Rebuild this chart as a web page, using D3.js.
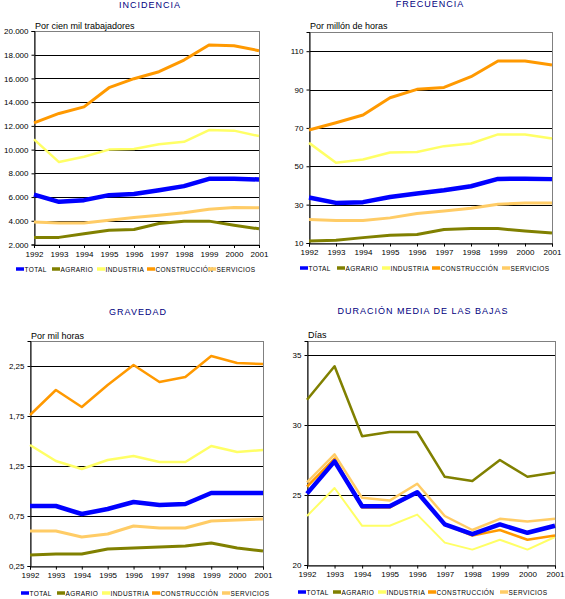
<!DOCTYPE html>
<html>
<head>
<meta charset="utf-8">
<script src="https://cdn.jsdelivr.net/npm/d3@7"></script>
<style>
  body { margin: 0; background: #fff; }
  svg { display: block; font-family: "Liberation Sans", Arial, sans-serif; }
  .title { fill: #000080; font-size: 9px; letter-spacing: 1px; }
  .sub { font-size: 9px; }
  .tick text { font-size: 8px; }
  .legend text { font-size: 6.5px; letter-spacing: 0.4px; }
</style>
</head>
<body>
<div class="vis"></div>
<script>
(function() {
  'use strict';

  var years = [1992, 1993, 1994, 1995, 1996, 1997, 1998, 1999, 2000, 2001];
  var seriesNames = ['TOTAL', 'AGRARIO', 'INDUSTRIA', 'CONSTRUCCIÓN', 'SERVICIOS'];
  var colors = ['#0000ff', '#808000', '#ffff66', '#ff9900', '#ffcc66'];

  // incidencia, por cien mil trabajadores
  var incTotal = [6200, 5600, 5740, 6160, 6250, 6580, 6920, 7540, 7540, 7480];
  var incAgrario = [2600, 2600, 2900, 3200, 3260, 3770, 3970, 3970, 3630, 3320];
  var incIndustria = [10860, 8950, 9400, 10000, 10050, 10460, 10660, 11650, 11600, 11140];
  var incConstruccion = [12260, 13050, 13600, 15220, 15980, 16570, 17550, 18820, 18760, 18340];
  var incServicios = [3900, 3820, 3820, 4050, 4280, 4470, 4670, 4980, 5120, 5090];
  var incTicks = [2000, 4000, 6000, 8000, 10000, 12000, 14000, 16000, 18000, 20000];

  // frecuencia, por millón de horas
  var freTotal = [33.7, 30.9, 31.3, 34.0, 35.8, 37.5, 39.6, 43.4, 43.5, 43.3];
  var freAgrario = [11.0, 11.4, 12.8, 14.0, 14.4, 17.0, 17.5, 17.5, 16.3, 15.2];
  var freIndustria = [62.2, 51.8, 53.5, 57.2, 57.4, 60.5, 61.9, 66.6, 66.6, 64.5];
  var freConstruccion = [68.9, 72.7, 76.7, 85.7, 90.1, 91.1, 96.7, 104.9, 104.9, 102.8];
  var freServicios = [22.2, 21.7, 21.7, 23.1, 25.4, 26.7, 28.1, 30.2, 30.9, 30.9];
  var freTicks = [10, 30, 50, 70, 90, 110];

  // gravedad, por mil horas
  var graTotal = [0.85, 0.85, 0.77, 0.82, 0.89, 0.86, 0.87, 0.98, 0.98, 0.98];
  var graAgrario = [0.36, 0.37, 0.37, 0.42, 0.43, 0.44, 0.45, 0.48, 0.43, 0.40];
  var graIndustria = [1.46, 1.30, 1.22, 1.31, 1.35, 1.29, 1.29, 1.45, 1.39, 1.41];
  var graConstruccion = [1.76, 2.01, 1.84, 2.06, 2.26, 2.09, 2.14, 2.35, 2.28, 2.27];
  var graServicios = [0.60, 0.60, 0.54, 0.57, 0.65, 0.63, 0.63, 0.70, 0.71, 0.72];
  var graTicks = [0.25, 0.75, 1.25, 1.75, 2.25];

  // duración media de las bajas, días
  var durTotal = [25.1, 27.4, 24.2, 24.2, 25.2, 22.9, 22.2, 22.9, 22.3, 22.8];
  var durAgrario = [31.8, 34.2, 29.2, 29.5, 29.5, 26.3, 26.0, 27.5, 26.3, 26.6];
  var durIndustria = [23.5, 25.5, 22.8, 22.8, 23.6, 21.6, 21.1, 21.8, 21.1, 22.0];
  var durConstruccion = [25.6, 27.6, 24.1, 24.1, 25.2, 22.9, 22.1, 22.5, 21.8, 22.1];
  var durServicios = [25.9, 27.9, 24.8, 24.6, 25.8, 23.5, 22.5, 23.3, 23.1, 23.3];
  var durTicks = [20, 25, 30, 35];

  var es = d3.formatLocale({decimal: ',', thousands: '.', grouping: [3], currency: ['', ' €']});

  var svg = d3.select('.vis').append('svg')
      .attr('width', 565)
      .attr('height', 599);

  drawPanel({
    title: 'INCIDENCIA', titleX: 150, titleY: 8,
    sub: 'Por cien mil trabajadores', subY: 29,
    box: {left: 34, right: 259, top: 31, bottom: 244.5},
    domain: [2000, 20000], ticks: incTicks, format: es.format(',.0f'),
    series: [incTotal, incAgrario, incIndustria, incConstruccion, incServicios],
    widths: [4.5, 3, 2.5, 3, 3],
    legendY: 269, legendX: [16, 52, 97, 147, 208]
  });

  drawPanel({
    title: 'FRECUENCIA', titleX: 430, titleY: 7,
    sub: 'Por millón de horas', subY: 29,
    box: {left: 309, right: 552, top: 32, bottom: 243},
    domain: [10, 120], ticks: freTicks, format: es.format('.0f'),
    series: [freTotal, freAgrario, freIndustria, freConstruccion, freServicios],
    widths: [4.5, 3, 2.5, 3, 3],
    legendY: 268, legendX: [300, 337, 382, 432, 502]
  });

  drawPanel({
    title: 'GRAVEDAD', titleX: 138, titleY: 315,
    sub: 'Por mil horas', subY: 339,
    box: {left: 30, right: 263, top: 341, bottom: 566},
    domain: [0.25, 2.5], ticks: graTicks, format: es.format('.2f'),
    series: [graTotal, graAgrario, graIndustria, graConstruccion, graServicios],
    widths: [4.5, 3, 2.5, 2.5, 3],
    legendY: 593, legendX: [21, 57, 102, 152, 222]
  });

  drawPanel({
    title: 'DURACIÓN MEDIA DE LAS BAJAS', titleX: 423, titleY: 314,
    sub: 'Días', subY: 338,
    box: {left: 307, right: 555, top: 341, bottom: 565},
    domain: [20, 36], ticks: durTicks, format: es.format('.0f'),
    series: [durTotal, durAgrario, durIndustria, durConstruccion, durServicios],
    widths: [4.5, 2.5, 2, 2.5, 2.5],
    legendY: 592, legendX: [298, 333, 378, 428, 500]
  });

  function drawPanel(p) {
    var b = p.box;
    var x = d3.scaleLinear().domain([years[0], years[years.length - 1]]).range([b.left, b.right]);
    var y = d3.scaleLinear().domain(p.domain).range([b.bottom, b.top]);

    var g = svg.append('g');

    g.append('text')
      .attr('class', 'title')
      .attr('x', p.titleX)
      .attr('y', p.titleY)
      .attr('text-anchor', 'middle')
      .text(p.title);

    g.append('text')
      .attr('class', 'sub')
      .attr('x', b.left + 1)
      .attr('y', p.subY)
      .text(p.sub);

    // gridlines
    g.selectAll('.grid')
      .data(p.ticks.filter(function(d) { return d !== p.domain[0]; }))
      .enter().append('line')
        .attr('x1', b.left).attr('x2', b.right)
        .attr('y1', function(d) { return Math.round(y(d)) + 0.5; })
        .attr('y2', function(d) { return Math.round(y(d)) + 0.5; })
        .attr('stroke', '#000')
        .attr('stroke-width', 1);

    g.append('rect')
      .attr('x', b.left + 0.5).attr('y', b.top + 0.5)
      .attr('width', b.right - b.left).attr('height', b.bottom - b.top)
      .attr('fill', 'none')
      .attr('stroke', '#808080');

    var yAxis = d3.axisLeft(y).tickValues(p.ticks).tickFormat(p.format).tickSize(3).tickPadding(3);
    g.append('g')
      .attr('transform', 'translate(' + (b.left + 0.5) + ',0)')
      .call(yAxis)
      .call(function(a) { a.select('.domain').attr('stroke', '#000'); });

    var xAxis = d3.axisBottom(x).tickValues(years).tickFormat(d3.format('d')).tickSize(3).tickPadding(3);
    g.append('g')
      .attr('transform', 'translate(0,' + (b.bottom + 0.5) + ')')
      .call(xAxis)
      .call(function(a) { a.select('.domain').attr('stroke', '#000'); });

    var line = d3.line()
      .x(function(d, i) { return x(years[i]); })
      .y(function(d) { return y(d); });

    // draw in reverse so TOTAL ends on top
    var order = [1, 2, 4, 3, 0];
    order.forEach(function(k) {
      g.append('path')
        .datum(p.series[k])
        .attr('d', line)
        .attr('fill', 'none')
        .attr('stroke', colors[k])
        .attr('stroke-width', p.widths[k])
        .attr('stroke-linejoin', 'round');
    });

    var leg = g.append('g').attr('class', 'legend');
    seriesNames.forEach(function(name, k) {
      var lx = p.legendX[k];
      leg.append('line')
        .attr('x1', lx).attr('x2', lx + 8)
        .attr('y1', p.legendY).attr('y2', p.legendY)
        .attr('stroke', colors[k])
        .attr('stroke-width', 3.5);
      leg.append('text')
        .attr('x', lx + 8.5)
        .attr('y', p.legendY + 2.5)
        .text(name);
    });
  }

}());
</script>
</body>
</html>
